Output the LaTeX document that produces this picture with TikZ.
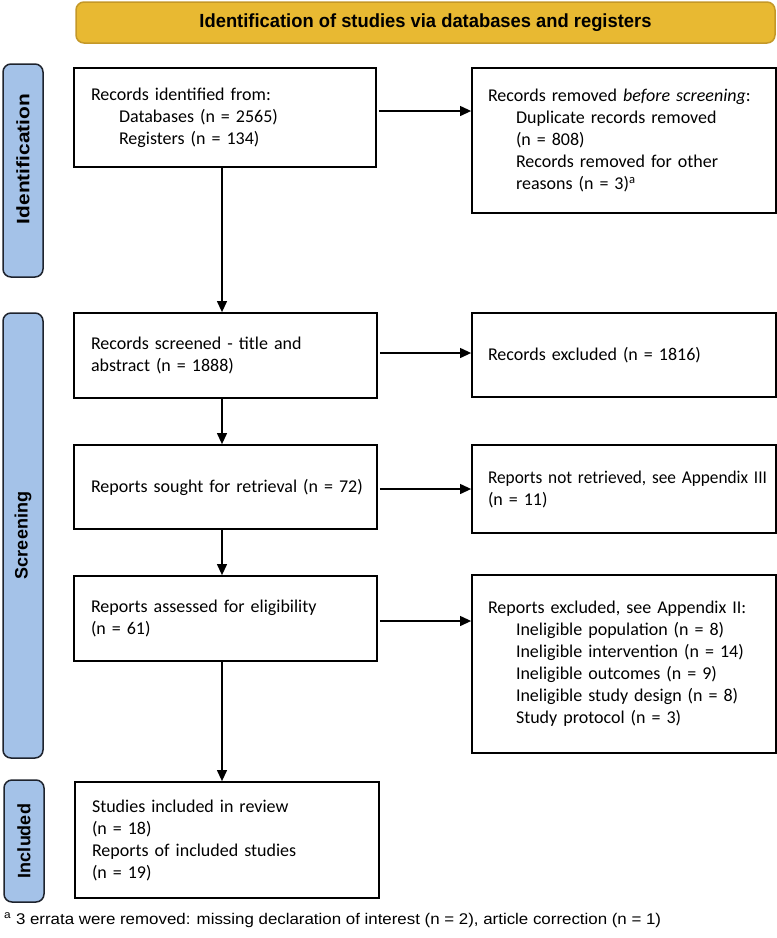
\documentclass[tikz,border=0pt]{standalone}
\usepackage{fontspec}
\setmainfont{Carlito}[WordSpace=0.8]
\newfontfamily\arialf{Liberation Sans}
\usetikzlibrary{arrows.meta}
\definecolor{gold}{RGB}{232,185,50}
\definecolor{goldline}{RGB}{196,152,40}
\definecolor{barblue}{RGB}{164,194,232}
\definecolor{barline}{RGB}{30,35,45}
\newcommand{\ind}{\hspace*{28pt}}
\tikzset{
  box/.style={draw=black, line width=1.8pt, fill=white, inner sep=0pt, align=left,
    font=\fontsize{18}{22}\selectfont},
  phase/.style={draw=barline, line width=1.5pt, fill=barblue, rounded corners=8pt, inner sep=0pt},
  phasetext/.style={rotate=90, font=\arialf\bfseries\fontsize{18}{20}\selectfont},
  flow/.style={line width=1.2pt, -{Triangle[length=11pt,width=10pt]}}
}
\begin{document}
\begin{tikzpicture}[x=1pt,y=-1pt]
\useasboundingbox (0,0) rectangle (777,938);
% header
\node[draw=goldline, line width=1.5pt, fill=gold, rounded corners=8pt, minimum width=699pt, minimum height=41pt, inner sep=0pt] (head) at (425.5,22.5)
  {\resizebox{452pt}{\height}{\arialf\bfseries\fontsize{19}{20}\selectfont Identification of studies via databases and registers}};
% phase bars
\node[phase, minimum width=40pt, minimum height=213pt] (pid) at (23,170.5) {};
\node[phasetext] (pidt) at (23,159) {\resizebox{130pt}{\height}{Identification}};
\node[phase, minimum width=40pt, minimum height=445pt] (psc) at (23,535.5) {};
\node[phasetext] (psct) at (psc.center) {Screening};
\node[phase, minimum width=40pt, minimum height=122pt] (pin) at (24,841) {};
\node[phasetext] (pint) at (pin.center) {Included};
% boxes left column
\node[box, minimum width=302pt, minimum height=99pt, text width=268pt] (b1) at (225,117.5)
  {Records identified from:\\ \ind Databases (n = 2565)\\ \ind Registers (n = 134)};
\node[box, minimum width=303pt, minimum height=85pt, text width=269pt] (b3) at (225.5,355.5)
  {Records screened - title and\\ abstract (n = 1888)};
\node[box, minimum width=303pt, minimum height=84pt, text width=269pt] (b5) at (225.5,487)
  {\mbox{Reports sought for retrieval (n = 72)}};
\node[box, minimum width=303pt, minimum height=85pt, text width=269pt] (b7) at (225.5,618.5)
  {Reports assessed for eligibility\\ (n = 61)};
\node[box, minimum width=304pt, minimum height=116pt, text width=270pt] (b9) at (227,840)
  {Studies included in review\\ (n = 18)\\ Reports of included studies\\ (n = 19)};
% boxes right column
\node[box, minimum width=304pt, minimum height=145pt, text width=272pt] (b2) at (624,140.5)
  {Records removed \textit{before screening}:\\ \ind Duplicate records removed\\ \ind (n = 808)\\ \ind Records removed for other\\ \ind reasons (n = 3)\textsuperscript{a}};
\node[box, minimum width=304pt, minimum height=84pt, text width=272pt] (b4) at (624,355)
  {Records excluded (n = 1816)};
\node[box, minimum width=304pt, minimum height=88pt, text width=272pt] (b6) at (624,489)
  {\resizebox{279pt}{\height}{Reports not retrieved, see Appendix III}\\ (n = 11)};
\node[box, minimum width=304pt, minimum height=178pt, text width=272pt] (b8) at (624,664)
  {Reports excluded, see Appendix II:\\ \ind Ineligible population (n = 8)\\ \ind Ineligible intervention (n = 14)\\ \ind Ineligible outcomes (n = 9)\\ \ind Ineligible study design (n = 8)\\ \ind Study protocol (n = 3)};
% arrows
\draw[flow] (b1.east |- 0,111) ++(2,0) -- (b2.west |- 0,111);
\draw[flow] (b1.south -| 222,0) -- (b3.north -| 222,0);
\draw[flow] (b3.east |- 0,353) ++(2,0) -- (b4.west |- 0,353);
\draw[flow] (b3.south -| 222,0) -- (b5.north -| 222,0);
\draw[flow] (b5.east |- 0,489) ++(2,0) -- (b6.west |- 0,489);
\draw[flow] (b5.south -| 222,0) -- (b7.north -| 222,0);
\draw[flow] (b7.east |- 0,621) ++(2,0) -- (b8.west |- 0,621);
\draw[flow] (b7.south -| 222,0) -- (b9.north -| 222,0);
% footnote
\node[anchor=west, inner sep=0pt] (foot) at (4,920)
  {\resizebox{657pt}{\height}{\arialf\fontsize{15.5}{18}\selectfont\textsuperscript{a} 3 errata were removed: missing declaration of interest (n = 2), article correction (n = 1)}};
\end{tikzpicture}
\end{document}
